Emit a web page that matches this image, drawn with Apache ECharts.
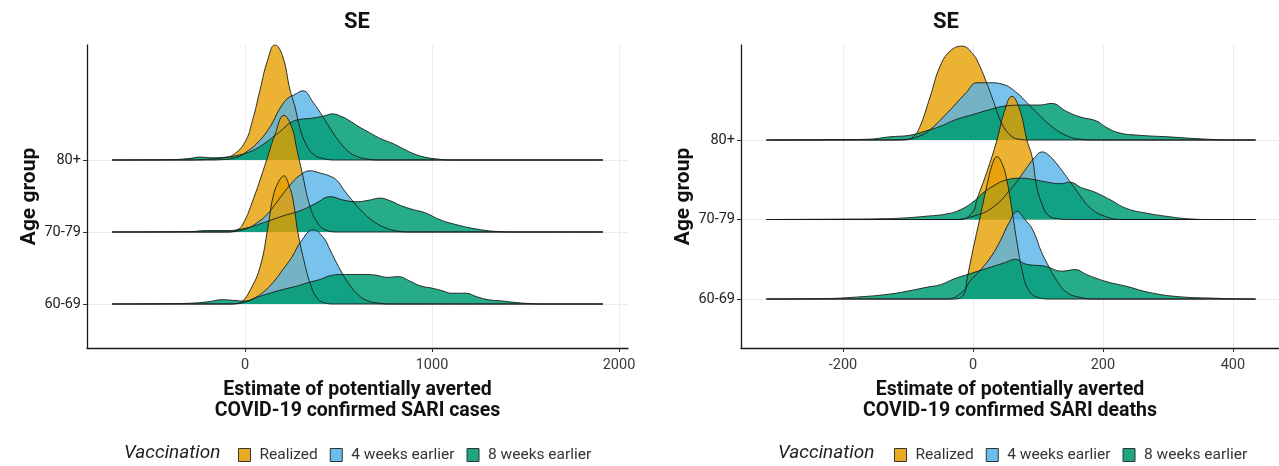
<!DOCTYPE html>
<html><head><meta charset="utf-8">
<script src="https://cdn.jsdelivr.net/npm/echarts@6/dist/echarts.min.js"></script>
<style>html,body{margin:0;padding:0;background:#fff}#c{width:1279px;height:466px}</style>
</head><body><div id="c"></div>
<script>
// ---- categories ----
const ageGroups = ['60-69', '70-79', '80+'];           // bottom -> top
const scenarios = ['Realized', '4 weeks earlier', '8 weeks earlier'];
const casesTicks = [0, 1000, 2000];
const deathsTicks = [-200, 0, 200, 400];
const casesRange = [-711, 1914];   // extent of density lines
const deathsRange = [-318, 435];

// ---- densities (x value, ridge height in row units), cases panel ----
const cases80Realized = [[-300,0],[-200,0.01],[-120,0.03],[-64,0.07],[0,0.25],[40,0.55],[80,0.97],[120,1.38],[160,1.6],[200,1.45],[241,0.97],[267,0.74],[294,0.44],[330,0.2],[370,0.07],[420,0.02],[480,0]];
const cases80Weeks4 = [[-200,0],[-100,0.01],[-30,0.05],[11,0.12],[60,0.22],[134,0.46],[187,0.72],[230,0.86],[260,0.9],[310,0.96],[364,0.8],[417,0.6],[460,0.42],[500,0.27],[540,0.15],[580,0.07],[640,0.02],[720,0]];
const cases80Weeks8 = [[-400,0.005],[-300,0.02],[-240,0.04],[-170,0.03],[-100,0.04],[-30,0.07],[40,0.13],[93,0.21],[180,0.38],[269,0.55],[357,0.58],[420,0.61],[467,0.64],[520,0.6],[556,0.55],[610,0.46],[666,0.38],[722,0.3],[798,0.22],[850,0.15],[900,0.09],[960,0.04],[1040,0.01],[1100,0]];
const cases70Realized = [[-100,0],[-43,0.03],[-11,0.11],[45,0.46],[117,1.01],[160,1.35],[208,1.62],[250,1.45],[277,1.15],[305,0.83],[348,0.35],[390,0.12],[430,0.03],[500,0]];
const cases70Weeks4 = [[-100,0],[0,0.04],[60,0.12],[120,0.25],[180,0.45],[240,0.65],[290,0.78],[348,0.85],[400,0.82],[450,0.78],[490,0.72],[530,0.58],[570,0.45],[620,0.3],[680,0.16],[740,0.07],[800,0.02],[880,0]];
const cases70Weeks8 = [[-300,0.005],[-200,0.02],[-100,0.02],[0,0.05],[100,0.13],[200,0.22],[300,0.3],[380,0.4],[455,0.49],[530,0.44],[600,0.42],[660,0.44],[722,0.47],[780,0.43],[830,0.37],[900,0.31],[960,0.27],[1043,0.17],[1133,0.1],[1240,0.04],[1363,0.005],[1450,0]];
const cases60Realized = [[-100,0],[-40,0.01],[-16,0.03],[27,0.19],[80,0.51],[123,1.07],[150,1.49],[180,1.7],[208,1.78],[235,1.65],[257,1.44],[283,0.99],[320,0.55],[348,0.29],[380,0.1],[420,0.02],[480,0]];
const cases60Weeks4 = [[-60,0],[0,0.03],[50,0.08],[100,0.17],[150,0.3],[200,0.47],[250,0.65],[300,0.87],[364,1.03],[420,0.92],[455,0.75],[500,0.52],[550,0.3],[600,0.14],[650,0.05],[720,0.01],[780,0]];
const cases60Weeks8 = [[-400,0.005],[-300,0.01],[-200,0.03],[-120,0.06],[-60,0.05],[0,0.04],[60,0.09],[120,0.14],[200,0.2],[280,0.25],[340,0.3],[400,0.34],[450,0.39],[520,0.41],[580,0.41],[640,0.41],[700,0.4],[760,0.37],[820,0.38],[880,0.32],[940,0.25],[1000,0.22],[1060,0.18],[1100,0.15],[1180,0.15],[1240,0.1],[1300,0.06],[1380,0.04],[1450,0.02],[1530,0.005],[1600,0]];

// ---- densities, deaths panel ----
const deaths80Realized = [[-130,0],[-100,0.01],[-92,0.04],[-82,0.16],[-66,0.54],[-51,0.92],[-35,1.12],[-17,1.18],[0,1.08],[11,0.92],[21,0.72],[31,0.5],[42,0.25],[55,0.08],[70,0.01],[90,0]];
const deaths80Weeks4 = [[-110,0],[-82,0.05],[-66,0.13],[-35,0.38],[-10,0.6],[6,0.72],[25,0.72],[46,0.7],[68,0.59],[83,0.47],[100,0.33],[120,0.18],[140,0.07],[165,0.01],[190,0]];
const deaths80Weeks8 = [[-200,0.005],[-160,0.01],[-128,0.04],[-97,0.06],[-74,0.11],[-51,0.17],[-25,0.26],[0,0.32],[25,0.38],[52,0.43],[83,0.44],[103,0.44],[121,0.46],[144,0.36],[165,0.29],[190,0.24],[205,0.16],[225,0.09],[255,0.06],[300,0.04],[360,0.01],[400,0]];
const deaths70Realized = [[-20,0],[0,0.1],[6,0.25],[21,0.59],[37,1.0],[48,1.35],[60,1.55],[72,1.38],[83,1.0],[91,0.79],[98,0.42],[106,0.2],[115,0.06],[130,0.01],[150,0]];
const deaths70Weeks4 = [[-30,0],[0,0.04],[30,0.15],[60,0.4],[80,0.62],[95,0.78],[106,0.85],[115,0.82],[129,0.7],[149,0.48],[165,0.3],[180,0.15],[200,0.05],[230,0]];
const deaths70Weeks8 = [[-200,0.005],[-136,0.01],[-105,0.02],[-74,0.04],[-40,0.07],[-20,0.12],[0,0.22],[15,0.33],[31,0.42],[52,0.5],[74,0.52],[95,0.5],[114,0.47],[135,0.45],[149,0.47],[167,0.4],[186,0.35],[211,0.25],[236,0.14],[267,0.08],[298,0.04],[330,0.01],[370,0]];
const deaths60Realized = [[-30,0],[-15,0.05],[-9,0.26],[0,0.62],[11,1.03],[21,1.41],[30,1.7],[37,1.79],[45,1.7],[52,1.5],[60,1.12],[68,0.7],[76,0.35],[85,0.12],[100,0.02],[120,0]];
const deaths60Weeks4 = [[-40,0],[-15,0.1],[-5,0.22],[10,0.35],[25,0.5],[40,0.7],[55,0.95],[68,1.1],[80,1.0],[92,0.87],[105,0.6],[114,0.45],[130,0.22],[145,0.08],[165,0.02],[190,0]];
const deaths60Weeks8 = [[-230,0.005],[-170,0.03],[-130,0.06],[-100,0.1],[-70,0.15],[-50,0.18],[-30,0.25],[0,0.33],[31,0.41],[50,0.46],[65,0.5],[81,0.44],[112,0.41],[136,0.35],[158,0.37],[174,0.31],[205,0.22],[236,0.16],[273,0.08],[316,0.03],[372,0.01],[420,0]];

// ---- styling ----
const fills = ['rgba(230,159,0,0.8)', 'rgba(86,180,233,0.8)', 'rgba(0,158,115,0.85)'];
const keyFills = ['#E8AB22', '#6CBDEC', '#1EA67F'];

const panels = [
  { range: casesRange, rows: { '80+': [cases80Realized, cases80Weeks4, cases80Weeks8], '70-79': [cases70Realized, cases70Weeks4, cases70Weeks8], '60-69': [cases60Realized, cases60Weeks4, cases60Weeks8] } },
  { range: deathsRange, rows: { '80+': [deaths80Realized, deaths80Weeks4, deaths80Weeks8], '70-79': [deaths70Realized, deaths70Weeks4, deaths70Weeks8], '60-69': [deaths60Realized, deaths60Weeks4, deaths60Weeks8] } }
];

const series = [];
panels.forEach((p, pi) => {
  // draw top row first so lower rows overlap it
  for (let r = ageGroups.length - 1; r >= 0; r--) {
    const g = ageGroups[r];
    p.rows[g].forEach((pts, si) => {
      const full = [[p.range[0], 0]].concat(pts, [[p.range[1], 0]]);
      series.push({
        type: 'line', name: scenarios[si], xAxisIndex: pi, yAxisIndex: pi,
        data: full.map(d => [d[0], r + d[1]]),
        smooth: 0.45, symbol: 'none', silent: true,
        lineStyle: { color: '#1a1a1a', width: 0.9 },
        itemStyle: { color: keyFills[si] },
        areaStyle: { color: fills[si], origin: r, opacity: 1 },
        animation: false
      });
    });
  }
});

const axisTextColor = '#3a3a3a';
const gridLine = { show: true, lineStyle: { color: '#ececec', width: 1 } };
function xAxis(gi, min, max, ticks, name) {
  return {
    type: 'value', gridIndex: gi, min: min, max: max,
    axisLine: { show: true, onZero: false, lineStyle: { color: '#1a1a1a', width: 1.3 } },
    axisTick: { show: true, customValues: ticks, length: 4, lineStyle: { color: '#333' } },
    axisLabel: { customValues: ticks, formatter: v => String(v), color: axisTextColor, fontSize: 14.5, fontFamily: 'Roboto', margin: 10 },
    splitLine: gridLine,
    name: name, nameLocation: 'middle', nameGap: 32,
    nameTextStyle: { fontFamily: 'Roboto', fontWeight: 'bold', fontSize: 19.5, color: '#111', lineHeight: 21 }
  };
}
function yAxis(gi, min, max) {
  return {
    type: 'value', gridIndex: gi, min: min, max: max,
    axisLine: { show: true, onZero: false, lineStyle: { color: '#1a1a1a', width: 1.3 } },
    axisTick: { show: true, customValues: [0, 1, 2], length: 4, lineStyle: { color: '#333' } },
    axisLabel: { customValues: [0, 1, 2], formatter: v => ageGroups[Math.round(v)], color: '#222', fontSize: 14.5, fontFamily: 'Roboto', margin: 6 },
    splitLine: gridLine,
    name: 'Age group', nameLocation: 'middle', nameRotate: 90, nameGap: 44,
    nameTextStyle: { fontFamily: 'Roboto', fontWeight: 'bold', fontSize: 21, color: '#111' }
  };
}

const legendData = scenarios.map((s, i) => ({ name: s, icon: 'rect', itemStyle: { color: keyFills[i], borderColor: '#333', borderWidth: 1 } }));
function legend(left) {
  return {
    left: left, top: 442, itemWidth: 12, itemHeight: 13, itemGap: 12, orient: 'horizontal',
    selectedMode: false, data: legendData,
    textStyle: { fontFamily: 'Roboto', fontSize: 15.5, color: '#333', padding: [0, 0, 0, 4] }
  };
}

const option = {
  animation: false,
  grid: [
    { left: 87, right: 651, top: 45, bottom: 118, containLabel: false },
    { left: 741, right: 0, top: 45, bottom: 118, containLabel: false }
  ],
  xAxis: [
    xAxis(0, -845, 2048, casesTicks, 'Estimate of potentially averted\nCOVID-19 confirmed SARI cases'),
    xAxis(1, -357, 471, deathsTicks, 'Estimate of potentially averted\nCOVID-19 confirmed SARI deaths')
  ],
  yAxis: [ yAxis(0, -0.611, 3.597), yAxis(1, -0.616, 3.195) ],
  legend: [ legend(233), legend(889) ],
  graphic: [
    { type: 'text', x: 357, y: 22, style: { text: 'SE', font: 'bold 22px Roboto', fill: '#111', textAlign: 'center', textVerticalAlign: 'middle' } },
    { type: 'text', x: 946, y: 22, style: { text: 'SE', font: 'bold 22px Roboto', fill: '#111', textAlign: 'center', textVerticalAlign: 'middle' } },
    { type: 'text', x: 124, y: 453, style: { text: 'Vaccination', font: 'italic 19px Roboto', fill: '#222', textAlign: 'left', textVerticalAlign: 'middle' } },
    { type: 'text', x: 778, y: 453, style: { text: 'Vaccination', font: 'italic 19px Roboto', fill: '#222', textAlign: 'left', textVerticalAlign: 'middle' } }
  ],
  series: series
};
const chart = echarts.init(document.getElementById('c'), null, { renderer: 'canvas' });
chart.setOption(option);
</script></body></html>
